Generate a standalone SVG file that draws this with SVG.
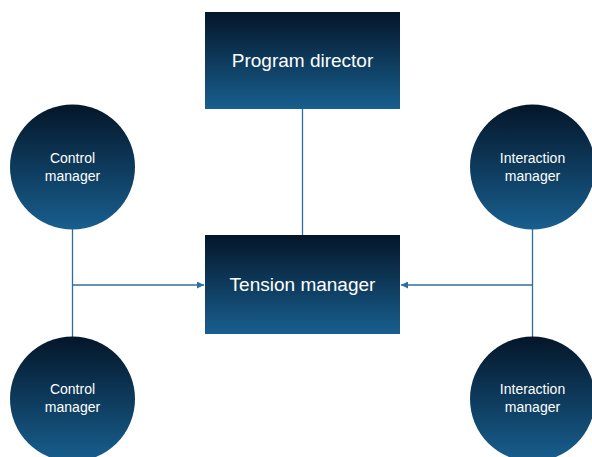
<svg xmlns="http://www.w3.org/2000/svg" width="592" height="457" viewBox="0 0 592 457">
  <style>
    .node { fill: url(#navy); }
    .lbl { fill: #ffffff; font-family: "Liberation Sans", "Open Sans", Arial, sans-serif; text-anchor: middle; }
    .big { font-size: 19px; }
    .small { font-size: 14px; }
    .wire { stroke: #2f6f9e; stroke-width: 1.3; fill: none; }
  </style>
  <defs>
    <linearGradient id="navy" x1="0" y1="0" x2="0" y2="1">
      <stop offset="0" stop-color="#041629"/>
      <stop offset="1" stop-color="#185f8f"/>
    </linearGradient>
    <marker id="arrow" viewBox="0 0 10 10" refX="10" refY="5" markerWidth="7" markerHeight="7" markerUnits="userSpaceOnUse" orient="auto">
      <path d="M0,0 L10,5 L0,10 z" fill="#2f6f9e"/>
    </marker>
  </defs>

  <g id="connectors">
    <line class="wire" x1="302.5" y1="109" x2="302.5" y2="235"/>
    <line class="wire" x1="72.5" y1="229" x2="72.5" y2="337"/>
    <line class="wire" x1="72.5" y1="285" x2="204" y2="285" marker-end="url(#arrow)"/>
    <line class="wire" x1="532.5" y1="229" x2="532.5" y2="337"/>
    <line class="wire" x1="532.5" y1="285" x2="401" y2="285" marker-end="url(#arrow)"/>
  </g>

  <g id="program-director">
    <rect class="node" x="205" y="12" width="195" height="97"/>
    <text class="lbl big" x="302.5" y="67">Program director</text>
  </g>

  <g id="tension-manager">
    <rect class="node" x="205" y="235" width="195" height="99"/>
    <text class="lbl big" x="302.5" y="291">Tension manager</text>
  </g>

  <g id="control-manager-top">
    <circle class="node" cx="72.5" cy="167" r="62.5"/>
    <text class="lbl small" x="72.5" y="163">Control</text>
    <text class="lbl small" x="72.5" y="181">manager</text>
  </g>

  <g id="control-manager-bottom">
    <circle class="node" cx="72.5" cy="399" r="62.5"/>
    <text class="lbl small" x="72.5" y="394">Control</text>
    <text class="lbl small" x="72.5" y="412">manager</text>
  </g>

  <g id="interaction-manager-top">
    <circle class="node" cx="532.5" cy="167" r="62.5"/>
    <text class="lbl small" x="532.5" y="163">Interaction</text>
    <text class="lbl small" x="532.5" y="181">manager</text>
  </g>

  <g id="interaction-manager-bottom">
    <circle class="node" cx="532.5" cy="399" r="62.5"/>
    <text class="lbl small" x="532.5" y="394">Interaction</text>
    <text class="lbl small" x="532.5" y="412">manager</text>
  </g>
</svg>
